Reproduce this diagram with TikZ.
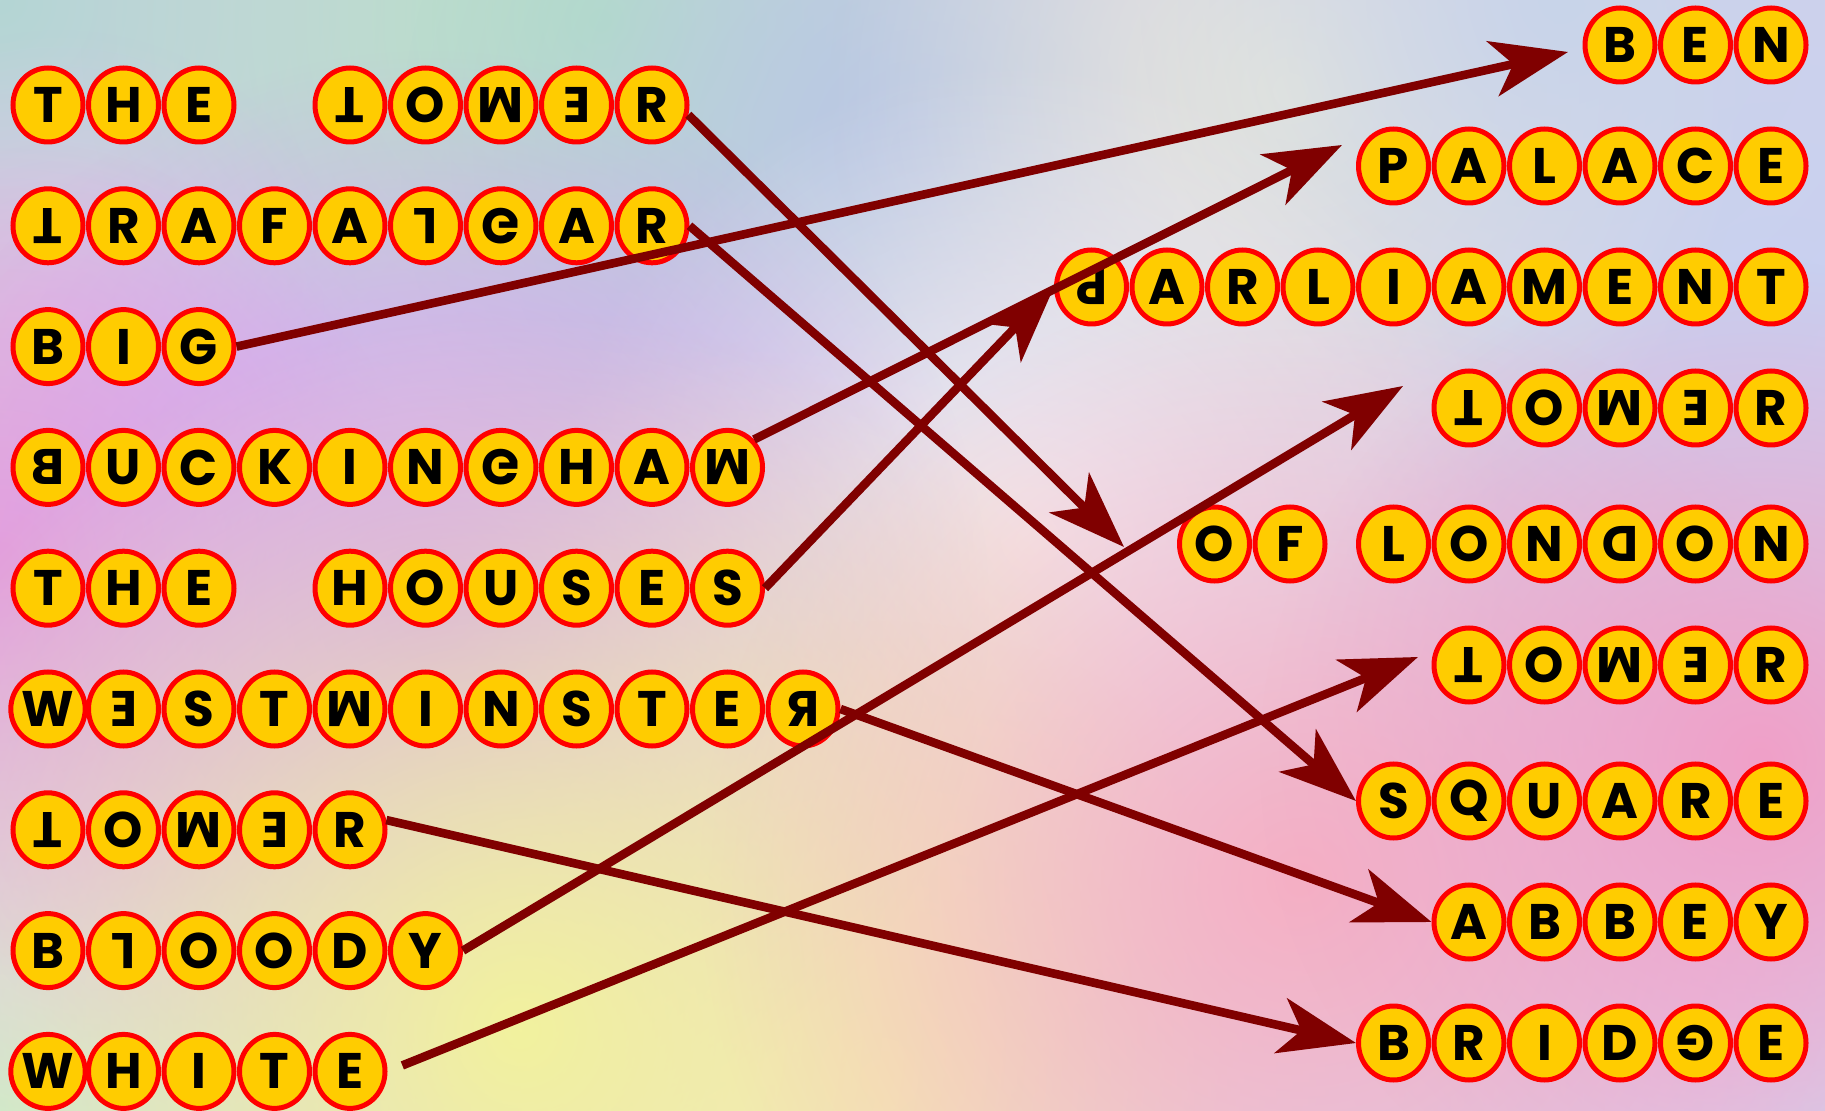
\documentclass[tikz,border=0pt]{standalone}
\usepackage{fontspec}
\setmainfont{Poppins}
\usepackage{graphicx}
\usetikzlibrary{arrows.meta,shapes.geometric,fadings}

\definecolor{ltrfill}{HTML}{FFCC00}
\definecolor{ltrline}{HTML}{FF0000}
\definecolor{linkred}{HTML}{800000}
\definecolor{bgbase}{HTML}{DCD0EA}

% turned, mirrored and flipped letters
\newcommand{\turnltr}[1]{\rotatebox[origin=c]{180}{#1}}
\newcommand{\mirrltr}[1]{\reflectbox{#1}}
\newcommand{\flipltr}[1]{\scalebox{1}[-1]{#1}}

\tikzfading[name=blob, inner color=transparent!0, outer color=transparent!100]

\begin{document}
\begin{tikzpicture}[x=0.5pt, y=-0.5pt,
  ltr/.style={ellipse, draw=ltrline, fill=ltrfill, line width=2.5pt,
    minimum width=35pt, minimum height=37pt, inner sep=0pt,
    font=\fontsize{25}{25}\selectfont\bfseries},
  link/.style={-{Stealth[length=38.5pt,width=28pt,inset=10.5pt]},
    draw=linkred, line width=4.3pt}]
  \useasboundingbox (0,0) rectangle (1825,1111);

  % background
  \begin{scope}
    \clip (0,0) rectangle (1825,1111);
    \fill[bgbase] (0,0) rectangle (1825,1111);
    \foreach \px/\py/\rr/\hx in {
      1780/330/760/C8D0F2, 0/0/560/B4D6D4, 600/20/520/B0E2C2,
      920/150/520/B8C6E6, 1290/90/460/E8E8DC, 1560/0/420/C8D4EA,
      60/330/300/DAC4E8, 1030/540/480/F4EEF2, 780/760/420/F2EAD6,
      0/1111/440/BFF0D2, 880/1080/460/F8E2C6, 1825/1111/440/C6E4F2,
      1700/1000/360/E0C8EE, 100/840/380/E0C8F2,
      0/560/420/E8A0D8, 430/610/560/D49CF4, 520/1030/720/F2F29E,
      1300/880/600/F6B0C4, 1760/760/500/F0A0C8}{
      \definecolor{blobc}{HTML}{\hx}
      \fill[blobc, path fading=blob] (\px,\py) circle (\rr);
    }
  \end{scope}

  % words
  \foreach \nm/\xo/\yo/\wlist in {
    the/48/105/{T,H,E},
    twr/350/105/{\turnltr{T},O,\turnltr{M},\mirrltr{E},R},
    traf/48/225.8/{\turnltr{T},R,A,F,A,\turnltr{L},\flipltr{G},A,R},
    big/48/346.6/{B,I,G},
    buck/48/467.4/{\mirrltr{B},U,C,K,I,N,\flipltr{G},H,A,\turnltr{M}},
    thh/48/588.2/{T,H,E},
    hse/350/588.2/{H,O,U,S,E,S},
    west/48/709/{W,\mirrltr{E},S,T,\turnltr{M},I,N,S,T,E,\mirrltr{R}},
    towr/48/829.8/{\turnltr{T},O,\turnltr{M},\mirrltr{E},R},
    bld/48/950.6/{B,\turnltr{L},O,O,D,Y},
    wht/48/1071.4/{W,H,I,T,E},
    ben/1620/45/{B,E,N},
    pal/1393.5/166/{P,A,L,A,C,E},
    parl/1091.5/287/{\turnltr{P},A,R,L,I,A,M,E,N,T},
    twa/1469/408/{\turnltr{T},O,\turnltr{M},\mirrltr{E},R},
    of/1214.5/544/{O,F},
    lon/1393.5/544/{L,O,N,\mirrltr{D},O,N},
    twb/1469/665/{\turnltr{T},O,\turnltr{M},\mirrltr{E},R},
    sq/1393.5/801/{S,Q,U,A,R,E},
    ab/1469/922/{A,B,B,E,Y},
    br/1393.5/1043/{B,R,I,D,\turnltr{G},E}}{
    \foreach \c [count=\i] in \wlist
      \node[ltr] (\nm-\i) at ({\xo+75.5*(\i-1)},\yo) {\c};
  }

  % arrow tips that stop short of a word
  \coordinate (toLondon) at (1124,547);
  \coordinate (toBen) at (1568,52);
  \coordinate (toPalace) at (1342,145);
  \coordinate (toTowerA) at (1403,386);
  \coordinate (toTowerB) at (1418,657);

  \draw[link] (twr-5.-15) -- (toLondon);
  \draw[link] (traf-9.east) -- (sq-1.west);
  \draw[link] (big-3.east) -- (toBen);
  \draw[link] (buck-10.north east) -- (toPalace);
  \draw[link] (hse-6.east) -- (parl-1.west);
  \draw[link] (west-11.east) -- (ab-1.west);
  \draw[link] (towr-5.15) -- (br-1.west);
  \draw[link] (bld-6.east) -- (toTowerA);
  \draw[link, shorten <=8pt] (wht-5.east) -- (toTowerB);
\end{tikzpicture}
\end{document}
